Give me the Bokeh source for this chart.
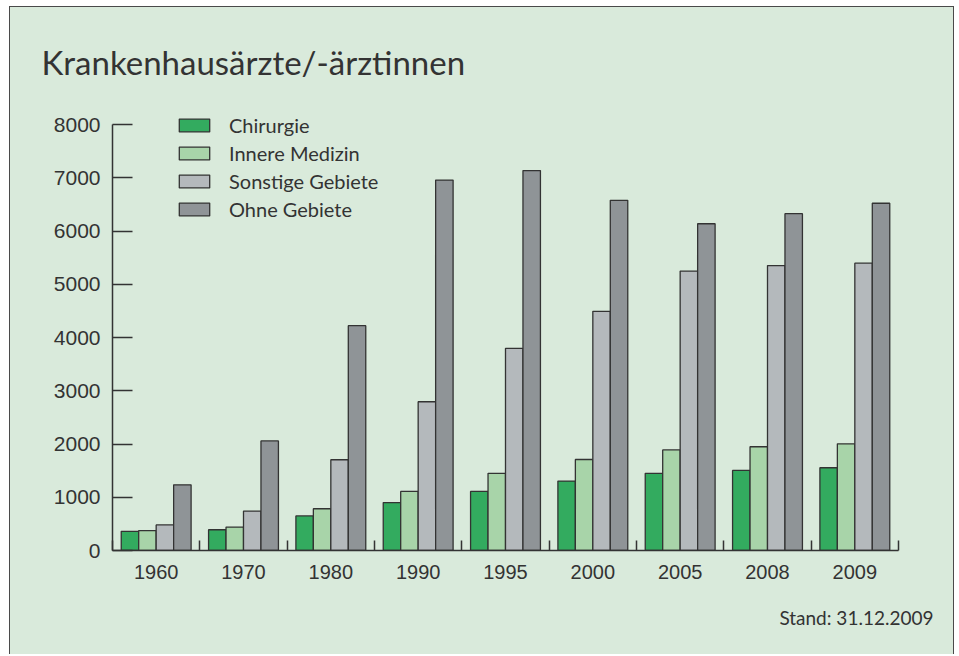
from bokeh.plotting import figure
from bokeh.models import ColumnDataSource, FixedTicker, Legend, LegendItem, Range1d, Title
from bokeh.embed import file_html
from bokeh.resources import INLINE

# ---- data ----
years = ["1960", "1970", "1980", "1990", "1995", "2000", "2005", "2008", "2009"]
chirurgie = [360, 390, 650, 900, 1110, 1305, 1450, 1505, 1555]
innere_medizin = [375, 440, 785, 1110, 1450, 1710, 1890, 1950, 2005]
sonstige_gebiete = [480, 740, 1705, 2795, 3800, 4495, 5250, 5355, 5400]
ohne_gebiete = [1235, 2060, 4225, 6960, 7140, 6580, 6140, 6330, 6525]
series_names = ["Chirurgie", "Innere Medizin", "Sonstige Gebiete", "Ohne Gebiete"]
y_ticks = [0, 1000, 2000, 3000, 4000, 5000, 6000, 7000, 8000]
title_text = "Krankenhausärzte/-ärztinnen"
note_text = "Stand: 31.12.2009"

# ---- styles ----
colors = ["#33ab5f", "#a8d4a9", "#b4b9bc", "#8f9497"]
bg = "#d9eadb"
ink = "#333333"
cond_font = "Lato"
num_font = "Liberation Sans"

n = len(years)
centers = [i + 0.5 for i in range(n)]
bar_w = 0.2
offsets = [-1.5 * bar_w, -0.5 * bar_w, 0.5 * bar_w, 1.5 * bar_w]
series = [chirurgie, innere_medizin, sonstige_gebiete, ohne_gebiete]

# frame reaches a bit above the 8000 tick so the legend fits inside it
y_top = y_ticks[-1] * 438 / 426.7

p = figure(width=945, height=648, x_range=Range1d(0, n), y_range=Range1d(0, y_top),
           output_backend="svg", toolbar_location=None,
           min_border_left=102, min_border_right=57, min_border_top=105, min_border_bottom=105)
p.background_fill_color = bg
p.border_fill_color = bg
p.outline_line_color = None
p.xgrid.visible = False
p.ygrid.visible = False
p.styles = {"margin-left": "9px", "margin-top": "6px", "background-color": bg,
            "border-left": "1.5px solid #4a4a4a", "border-top": "1.5px solid #4a4a4a",
            "border-right": "1.5px solid #4a4a4a"}

items = []
for name, vals, off, col in zip(series_names, series, offsets, colors):
    src = ColumnDataSource(dict(x=[c + off for c in centers], top=vals))
    r = p.vbar(x="x", top="top", width=bar_w, bottom=0, source=src,
               fill_color=col, line_color=ink, line_width=1.3)
    items.append(LegendItem(label=name, renderers=[r]))

# axes
p.xaxis.ticker = FixedTicker(ticks=centers, minor_ticks=list(range(n + 1)))
p.xaxis.major_label_overrides = {c: y for c, y in zip(centers, years)}
p.xaxis.major_tick_in = 0
p.xaxis.major_tick_out = 0
p.xaxis.minor_tick_in = 10
p.xaxis.minor_tick_out = 0
p.xaxis.minor_tick_line_color = ink
p.xaxis.minor_tick_line_width = 1.5
p.xaxis.axis_line_color = ink
p.xaxis.axis_line_width = 1.5
p.xaxis.major_label_text_font = num_font
p.xaxis.major_label_text_font_size = "20px"
p.xaxis.major_label_text_color = ink
p.xaxis.major_label_standoff = 14

p.yaxis.ticker = FixedTicker(ticks=y_ticks)
p.yaxis.bounds = (y_ticks[0], y_ticks[-1])
p.yaxis.major_tick_in = 20
p.yaxis.major_tick_out = 0
p.yaxis.major_tick_line_color = ink
p.yaxis.major_tick_line_width = 1.5
p.yaxis.minor_tick_line_color = None
p.yaxis.axis_line_color = ink
p.yaxis.axis_line_width = 1.5
p.yaxis.major_label_text_font = num_font
p.yaxis.major_label_text_font_size = "21px"
p.yaxis.major_label_text_color = ink
p.yaxis.major_label_standoff = 12

legend = Legend(items=items, location=(63, 329), orientation="vertical",
                glyph_width=38, glyph_height=16, label_standoff=16, spacing=4,
                padding=0, margin=0, border_line_color=None, background_fill_alpha=0,
                label_text_font=cond_font, label_text_font_size="20px",
                label_text_color=ink)
p.add_layout(legend)

p.title.text = title_text
p.title.align = "left"
p.title.offset = -71
p.title.text_font = cond_font
p.title.text_font_size = "33px"
p.title.text_font_style = "normal"
p.title.text_color = ink
if "standoff" in p.title.properties():
    p.title.standoff = 64

note = Title(text=note_text, align="right", offset=-35, text_font=cond_font,
             text_font_size="19px", text_font_style="normal", text_color=ink,
             standoff=44)
p.add_layout(note, "below")

open("out.html", "w").write(file_html(p, INLINE))
